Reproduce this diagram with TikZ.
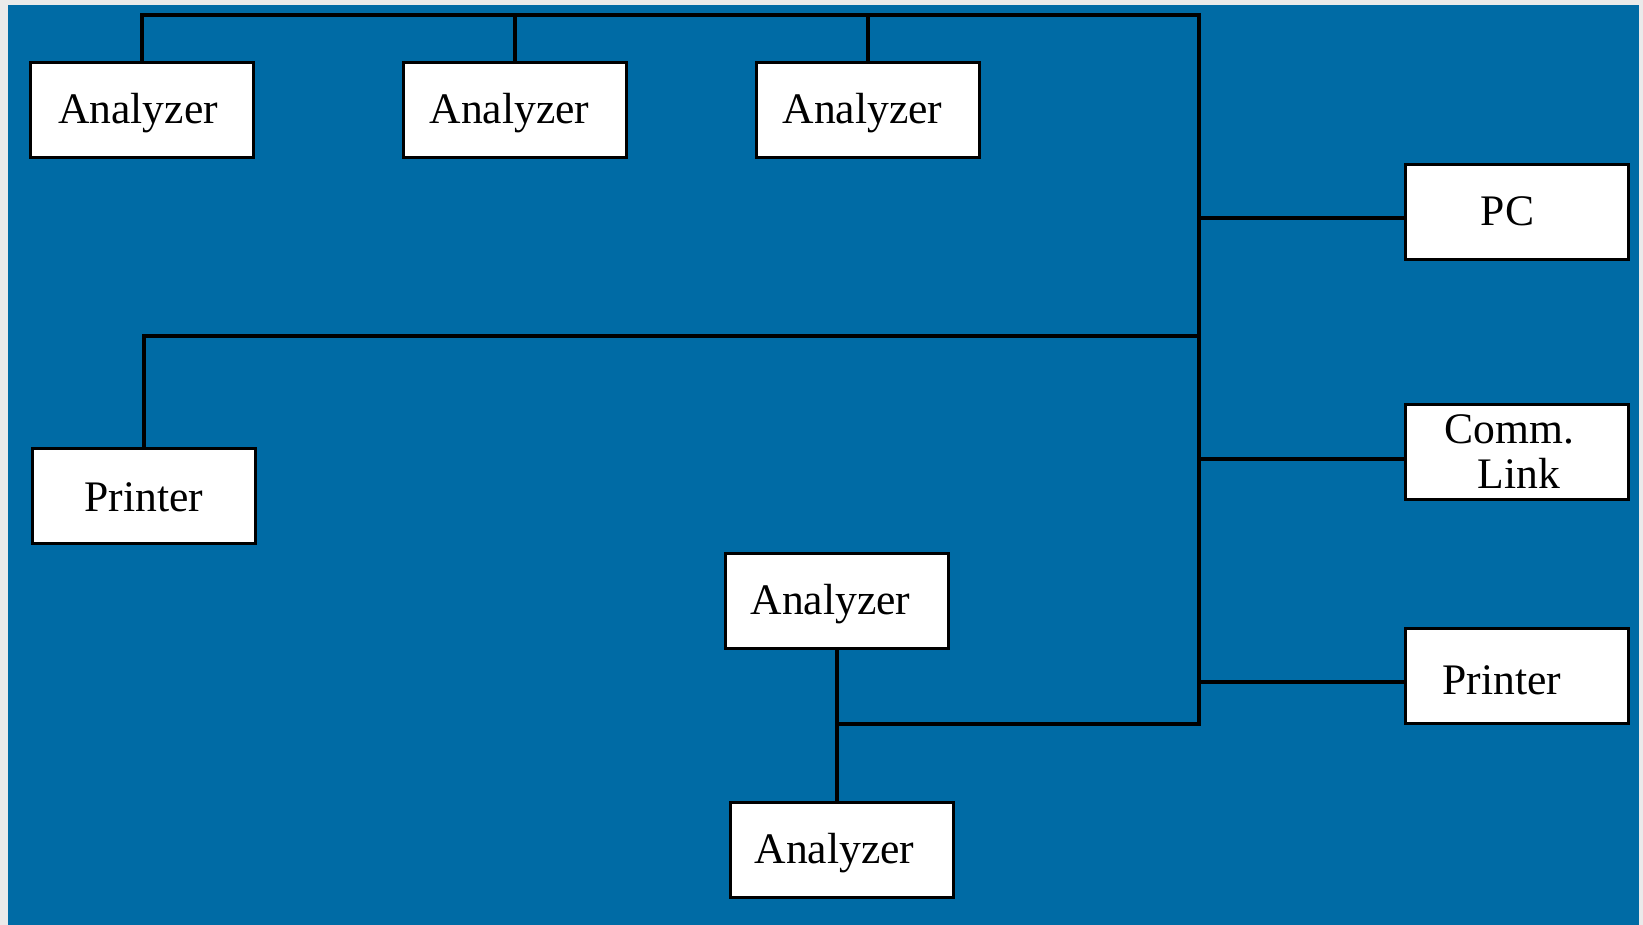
\documentclass[tikz,border=0pt]{standalone}
\usepackage{fontspec}
\setmainfont{Liberation Serif}
\definecolor{panelblue}{RGB}{0,107,165}
\definecolor{pagegray}{RGB}{234,234,234}
\usetikzlibrary{positioning,calc}

\begin{document}
\begin{tikzpicture}[x=0.5pt,y=-0.5pt,
    box/.style={draw=black, line width=1.4pt, fill=white, inner sep=0pt,
      minimum width=111.6pt, minimum height=47.6pt, align=center,
      font=\fontsize{21.8}{22.5}\selectfont},
    unit/.style={box, text height=15pt, text depth=1.5pt},
    wire/.style={line width=1.7pt}]
  % panel
  \fill[pagegray] (0,0) rectangle (1643,925);
  \fill[panelblue] (8,5) rectangle (1639,925);

  % units
  \node[unit] (ana1) at (142,110) {Analyzer\hspace*{4pt}};
  \node[unit] (ana2) at (515,110) {Analyzer\hspace*{5.5pt}};
  \node[unit] (ana3) at (868,110) {Analyzer\hspace*{5.5pt}};
  \node[unit] (pc) at (1517,212) {PC\hspace*{9.5pt}};
  \node[box] (comm) at (1517,452) {Comm.\hspace*{7.3pt}\\\hspace*{2pt}Link};
  \node[unit, text height=20pt] (prnR) at (1517,676) {Printer\hspace*{15pt}};
  \node[unit, text height=17pt] (prnL) at (144,496) {Printer};
  \node[unit] (ana4) at (837,601) {Analyzer\hspace*{6.5pt}};
  \node[unit] (ana5) at (842,850) {Analyzer\hspace*{7.5pt}};

  % bus
  \coordinate (busTop) at (1199,15);
  \coordinate (busMid) at (1199,336);
  \coordinate (busEnd) at (1199,724);
  \coordinate (pcTap) at ([yshift=-3pt]pc.west);
  \coordinate (commTap) at ([yshift=-3.5pt]comm.west);
  \coordinate (prnTap) at ([yshift=-3pt]prnR.west);

  \draw[wire] (ana1.north) |- (busTop) -- (busEnd) -| (ana4.south);
  \draw[wire] (ana2.north) -- (ana2.north |- busTop);
  \draw[wire] (ana3.north) -- (ana3.north |- busTop);
  \draw[wire] (prnL.north) |- (busMid);
  \draw[wire] (pcTap) -- (pcTap -| busTop);
  \draw[wire] (commTap) -- (commTap -| busTop);
  \draw[wire] (prnTap) -- (prnTap -| busTop);
  \draw[wire] (ana4.south) -- (ana4.south |- ana5.north);
\end{tikzpicture}
\end{document}
